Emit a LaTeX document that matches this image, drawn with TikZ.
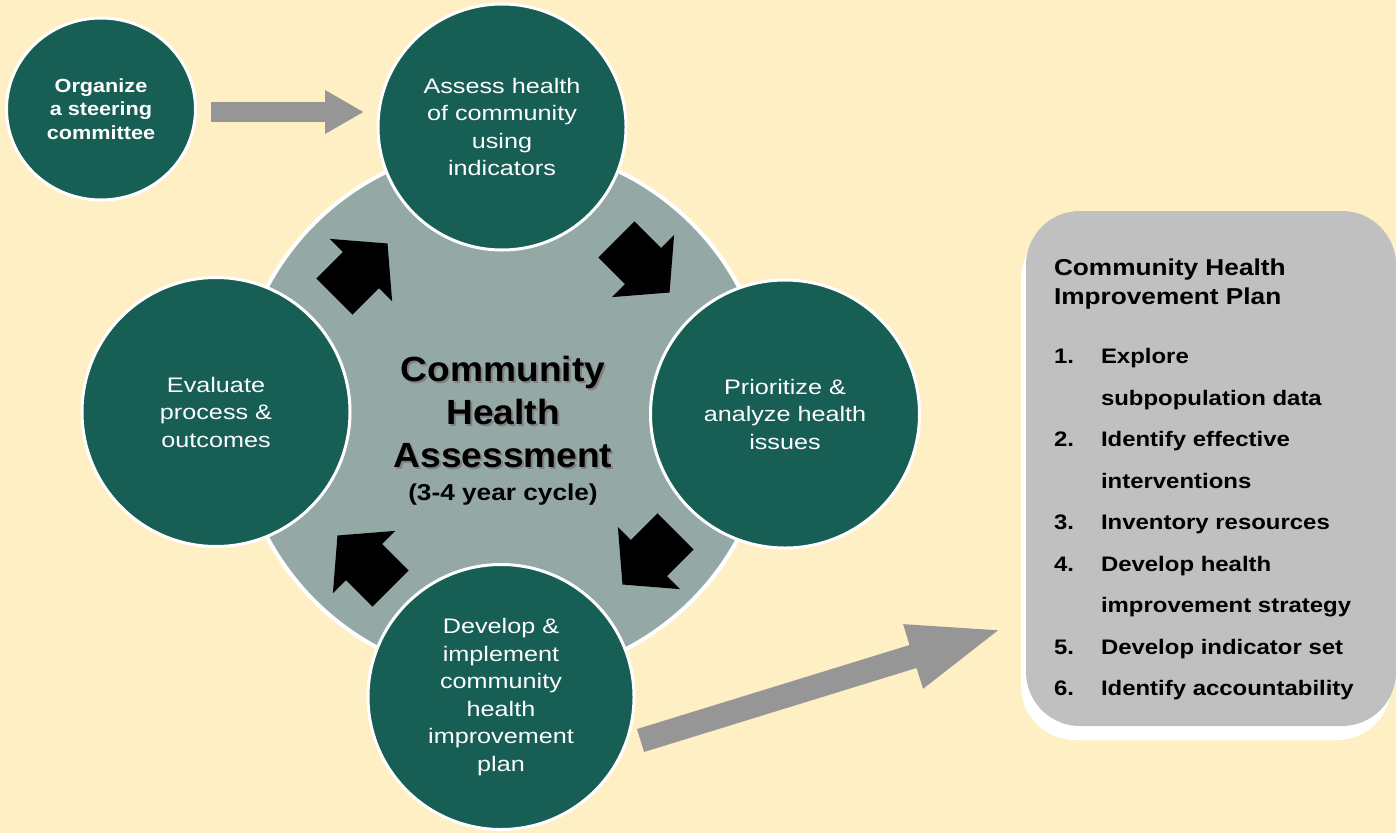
\documentclass[tikz,border=0pt]{standalone}
\usepackage{fontspec}
\setmainfont{Liberation Sans}
\newfontfamily\stagefont{Liberation Sans}[FakeStretch=1.2]
\newfontfamily\listfont{Liberation Sans}[FakeStretch=1.14]
\newfontfamily\hubfont{Liberation Sans}[FakeStretch=1.06]
\usetikzlibrary{arrows.meta,calc,positioning,shapes.geometric,shadows}

\definecolor{bgcream}{HTML}{FFEFC5}
\definecolor{stagegreen}{HTML}{175E55}
\definecolor{hubgray}{HTML}{94A8A6}
\definecolor{arrowgray}{HTML}{969696}
\definecolor{plangray}{HTML}{C0C0C0}

\newcommand{\stepnum}[1]{\makebox[47pt][l]{#1}}
\newcommand{\stepgap}{\hspace*{47pt}}

\tikzset{
  cyclearrow/.pic={
    \fill[black] (-37.5,-25.5) -- (0,-25.5) -- (0,-44) -- (37.5,0)
      -- (0,44) -- (0,25.5) -- (-37.5,25.5) -- cycle;
  }
}

\begin{document}
\begin{tikzpicture}[x=1pt,y=-1pt,
  stage/.style={ellipse, fill=stagegreen, draw=white, line width=3pt,
    text=white, align=center, inner sep=0pt,
    font=\stagefont\fontsize{21}{27.5}\selectfont},
  hubtitle/.style={align=center, inner sep=0pt,
    font=\hubfont\bfseries\fontsize{35}{43}\selectfont},
  listtext/.style={align=left, inner sep=0pt, text=black},
  feedarrow/.style={draw=arrowgray, line cap=butt}]

\fill[bgcream] (0,0) rectangle (1396,833);
\useasboundingbox (0,0) rectangle (1396,833);

% assessment cycle
\node[circle, fill=hubgray, draw=white, line width=4pt, minimum size=534pt] (hub) at (503,412) {};
\foreach \dx/\dy/\ang in {-142/-142/45, 140/-146/-45, 146/146/-135, -139/150/135}
  \pic[rotate=\ang] at ($(hub)+(\dx,\dy)$) {cyclearrow};

\node[hubtitle, text=black!50] at ($(hub)+(2,2)$) {Community\\Health\\Assessment};
\node[hubtitle] (title) at (hub) {Community\\Health\\Assessment};
\node[inner sep=0pt, below=16pt of title, font=\listfont\bfseries\fontsize{23}{28}\selectfont] (cycle) {(3-4 year cycle)};

\node[stage, minimum width=248pt, minimum height=246pt] (assess) at (502,127) {Assess health\\of community\\using\\indicators};
\node[stage, minimum width=269pt, minimum height=268pt] (prior) at (785,414) {Prioritize \&\\analyze health\\issues};
\node[stage, minimum width=268pt, minimum height=269pt] (eval) at (216,412) {Evaluate\\process \&\\outcomes};
\node[stage, minimum width=266pt, minimum height=265pt] (dev) at (501,697) {Develop \&\\implement\\community\\health\\improvement\\plan};

% steering committee
\node[stage, minimum width=189pt, minimum height=182pt,
  font=\listfont\bfseries\fontsize{19}{23.5}\selectfont] (org) at (101,109) {Organize\\a steering\\committee};
\coordinate (lane) at (0,112);
\draw[feedarrow, line width=20.6pt, -{Triangle[width=41pt,length=39pt]},
  shorten <=14pt, shorten >=12.5pt] (org.east |- lane) -- (assess.west |- lane);

% improvement plan
\node[rectangle, rounded corners=54pt, fill=plangray, minimum width=370pt, minimum height=515pt,
  drop shadow={shadow xshift=-5pt, shadow yshift=-14pt, fill=white, opacity=1}] (plan) at (1211,468.5) {};
\node[listtext, anchor=north west, font=\listfont\bfseries\fontsize{23}{29}\selectfont]
  (plantitle) at ([shift={(28,47.5)}]plan.north west) {Community Health\\Improvement Plan};
\node[listtext, anchor=north west, font=\listfont\bfseries\fontsize{21}{41.5}\selectfont]
  (planlist) at ([yshift=-39pt]plantitle.south west) {\stepnum{1.}Explore\\
  \stepgap subpopulation data\\
  \stepnum{2.}Identify effective\\
  \stepgap interventions\\
  \stepnum{3.}Inventory resources\\
  \stepnum{4.}Develop health\\
  \stepgap improvement strategy\\
  \stepnum{5.}Develop indicator set\\
  \stepnum{6.}Identify accountability};
\draw[feedarrow, line width=24pt, -{Triangle[width=59pt,length=96pt]}]
  ($(dev.center)+(139.5,43.5)$) -- ($(plan.south west)+(-21,-98)$);
\end{tikzpicture}
\end{document}
